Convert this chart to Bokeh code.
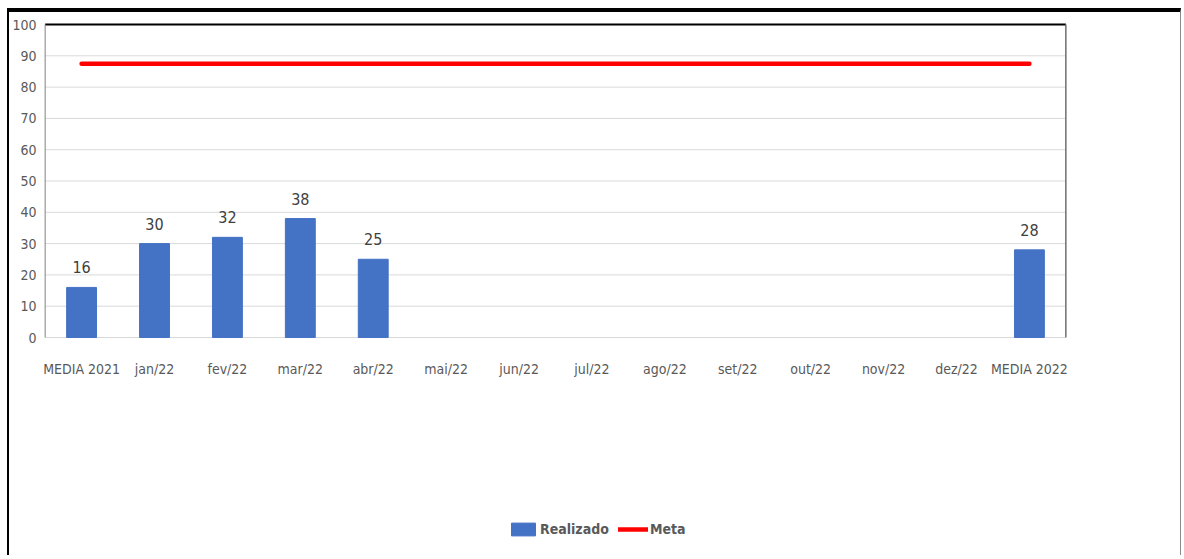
from bokeh.plotting import figure
from bokeh.models import (FactorRange, Range1d, ColumnDataSource, LabelSet,
                          Legend, LegendItem, FixedTicker)
from bokeh.core.properties import value
from bokeh.embed import file_html
from bokeh.resources import INLINE

categories = ["MEDIA 2021", "jan/22", "fev/22", "mar/22", "abr/22", "mai/22", "jun/22",
              "jul/22", "ago/22", "set/22", "out/22", "nov/22", "dez/22", "MEDIA 2022"]
realizado = [16, 30, 32, 38, 25, None, None, None, None, None, None, None, None, 28]
meta = [87.5] * 14
y_ticks = [0, 10, 20, 30, 40, 50, 60, 70, 80, 90, 100]

FONT = "DejaVu Sans Condensed, DejaVu Sans, sans-serif"
TXT = "#595959"

# geometry (pixels)
W, H = 1174, 547
B_LEFT, B_RIGHT, B_TOP, B_BOTTOM = 30, 114, 10, 2
X_PAD = 0.05
PX_PER_UNIT = 3.13
frame_h = H - B_TOP - B_BOTTOM
y_max = 100 + 2 / PX_PER_UNIT
y_min = y_max - frame_h / PX_PER_UNIT
n = len(categories)

real_vals = [float("nan") if v is None else v for v in realizado]
src = ColumnDataSource(dict(cat=categories, real=real_vals, meta=meta,
                            zero=[0] * n))
lab_src = ColumnDataSource(dict(
    cat=[c for c, v in zip(categories, realizado) if v is not None],
    real=[v for v in realizado if v is not None],
    txt=[str(v) for v in realizado if v is not None]))

xr = FactorRange(*categories, range_padding=X_PAD, range_padding_units="absolute")
p = figure(x_range=xr, y_range=Range1d(y_min, y_max),
           width=W, height=H, output_backend="svg", toolbar_location=None,
           x_axis_location=None,
           min_border_left=B_LEFT, min_border_right=B_RIGHT,
           min_border_top=B_TOP, min_border_bottom=B_BOTTOM)
p.styles = {"margin-left": "7px", "margin-top": "8px",
            "border-left": "2px solid black", "border-top": "4px solid black",
            "border-right": "1px solid #8a8a8a"}
p.outline_line_color = None
p.xgrid.grid_line_color = None
p.ygrid.grid_line_color = None

# horizontal gridlines, limited to the plot area
grid_y = [t for t in y_ticks if 0 < t < 100]
p.segment(x0=[0] * len(grid_y), y0=grid_y, x1=[n] * len(grid_y), y1=grid_y,
          line_color="#d9d9d9", line_width=1)
# plot-area borders
p.segment(x0=[0], y0=[0], x1=[n], y1=[0], line_color="#d9d9d9", line_width=1)
p.segment(x0=[0], y0=[100], x1=[n], y1=[100], line_color="black", line_width=2)
p.segment(x0=[n], y0=[0], x1=[n], y1=[100], line_color="#6f6f6f", line_width=1.5)
p.segment(x0=[0], y0=[0], x1=[0], y1=[100], line_color="#808080", line_width=1)

bars = p.vbar(x="cat", top="real", width=0.41, source=src, color="#4472c4")
line = p.line(x="cat", y="meta", source=src, color="#ff0000", line_width=4.5,
              line_cap="round")

labels = LabelSet(x="cat", y="real", text="txt", source=lab_src, y_offset=14,
                  text_align="center", text_baseline="bottom",
                  text_font=value(FONT), text_font_size="16px", text_color="#404040")
p.add_layout(labels)

xlabels = LabelSet(x="cat", y="zero", text="cat", source=src, y_offset=-31,
                   text_align="center", text_baseline="middle",
                   text_font=value(FONT), text_font_size="14px", text_color=TXT)
p.add_layout(xlabels)

p.yaxis.ticker = FixedTicker(ticks=y_ticks)
p.yaxis.axis_line_color = None
p.yaxis.major_tick_line_color = None
p.yaxis.minor_tick_line_color = None
p.yaxis.major_tick_out = 0
p.yaxis.major_tick_in = 0
p.yaxis.minor_tick_out = 0
p.yaxis.minor_tick_in = 0
p.yaxis.major_label_standoff = 5
p.yaxis.major_label_text_font = FONT
p.yaxis.major_label_text_font_size = "14px"
p.yaxis.major_label_text_color = TXT

legend = Legend(items=[LegendItem(label="Realizado", renderers=[bars]),
                       LegendItem(label="Meta", renderers=[line])],
                location=(467, 20), orientation="horizontal",
                glyph_width=30, glyph_height=16, label_standoff=2, spacing=9,
                padding=0, margin=0, border_line_color=None, background_fill_alpha=0,
                label_text_font=FONT, label_text_font_size="14px",
                label_text_font_style="bold", label_text_color=TXT)
p.add_layout(legend, "center")

open("out.html", "w").write(file_html(p, INLINE))
